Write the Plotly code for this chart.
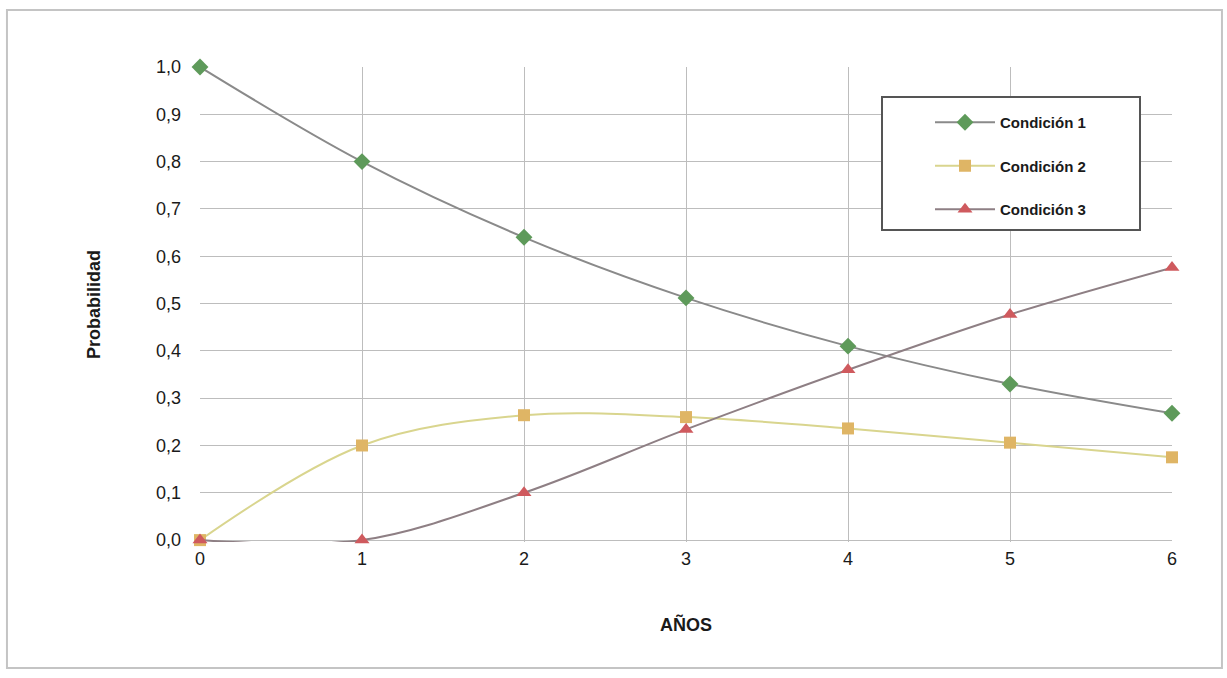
import plotly.graph_objects as go

anios = [0, 1, 2, 3, 4, 5, 6]
cond1 = [1.0, 0.80, 0.64, 0.512, 0.41, 0.33, 0.268]
cond2 = [0.0, 0.20, 0.264, 0.26, 0.236, 0.206, 0.175]
cond3 = [0.0, 0.0, 0.10, 0.234, 0.36, 0.477, 0.576]
y_ticks = [0.0, 0.1, 0.2, 0.3, 0.4, 0.5, 0.6, 0.7, 0.8, 0.9, 1.0]
y_labels = ["0,0", "0,1", "0,2", "0,3", "0,4", "0,5", "0,6", "0,7", "0,8", "0,9", "1,0"]

fig = go.Figure()
fig.add_trace(go.Scatter(x=anios, y=cond1, name="Condición 1", mode="lines+markers",
                         legendgroup="g1",
                         line=dict(color="#8a8a8a", width=2, shape="spline"),
                         marker=dict(symbol="diamond", size=13, color="#5e9a5a"),
                         cliponaxis=False))
fig.add_trace(go.Scatter(x=anios, y=cond2, name="Condición 2", mode="lines+markers",
                         legendgroup="g2",
                         line=dict(color="#d9d58e", width=2, shape="spline"),
                         marker=dict(symbol="square", size=12, color="#dfb565"),
                         cliponaxis=False))
fig.add_trace(go.Scatter(x=anios, y=cond3, name="Condición 3", mode="lines+markers",
                         legendgroup="g3",
                         line=dict(color="#8e7f84", width=2, shape="spline"),
                         marker=dict(symbol="triangle-up", size=13, color="#cf5a5e"),
                         cliponaxis=False))

fig.update_layout(
    width=1227, height=678,
    margin=dict(l=200, r=55, t=67, b=136),
    paper_bgcolor="white", plot_bgcolor="white",
    font=dict(family="Liberation Sans, Arial, sans-serif", size=18, color="#1a1a1a"),
    showlegend=True,
    legend=dict(x=(930 - 200) / 972, y=(540 - 104) / 475, xanchor="left", yanchor="top",
                bgcolor="rgba(0,0,0,0)", borderwidth=0,
                font=dict(size=15, family="Liberation Sans, Arial, sans-serif", color="#1a1a1a", weight="bold"),
                itemwidth=60, tracegroupgap=21),
    xaxis=dict(range=[0, 6], tickvals=anios, showgrid=True, gridcolor="#bdbdbd", gridwidth=1,
               zeroline=False, showline=False, ticks="", ticklabelstandoff=4,
               title=dict(text="<b>AÑOS</b>", font=dict(size=18), standoff=50)),
    yaxis=dict(range=[-0.004, 1.0], tickvals=y_ticks, ticktext=y_labels, showgrid=True,
               gridcolor="#bdbdbd", gridwidth=1, zeroline=False, showline=False,
               ticks="", ticklabelstandoff=18,
               title=dict(text="<b>Probabilidad</b>", font=dict(size=18), standoff=50)),
)

# legend frame
fig.add_shape(type="rect", xref="paper", yref="paper",
              x0=(882 - 200) / 972, x1=(1140 - 200) / 972,
              y0=(542 - 230) / 475, y1=(542 - 97) / 475,
              line=dict(color="#555555", width=2), fillcolor="white", layer="above")

fig.add_shape(type="rect", xref="paper", yref="paper",
              x0=-0.1986, x1=1.0514, y0=(542 - 668) / 475, y1=(542 - 10) / 475,
              line=dict(color="#c4c4c4", width=2), layer="below")

fig.write_html("out.html")
